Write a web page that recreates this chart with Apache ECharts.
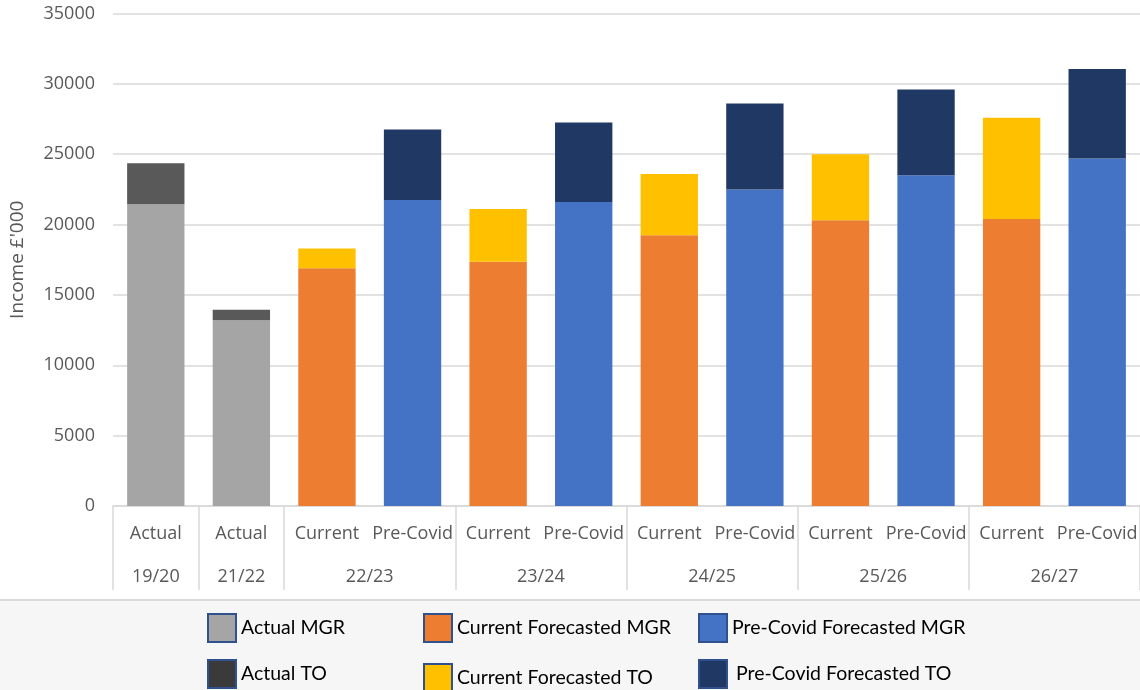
<!DOCTYPE html>
<html>
<head>
<meta charset="utf-8">
<script src="https://cdn.jsdelivr.net/npm/echarts@6/dist/echarts.min.js"></script>
<style>
  html, body { margin: 0; padding: 0; background: #ffffff; }
  #chart { width: 1140px; height: 690px; }
</style>
</head>
<body>
<div id="chart"></div>
<script>
// Bar labels (inner row) and the year groups they belong to (outer row)
const categories = ['Actual', 'Actual', 'Current', 'Pre-Covid', 'Current', 'Pre-Covid',
                    'Current', 'Pre-Covid', 'Current', 'Pre-Covid', 'Current', 'Pre-Covid'];
const yearLabels = ['19/20', '21/22', '22/23', '23/24', '24/25', '25/26', '26/27'];
const yearSpans = [1, 1, 2, 2, 2, 2, 2];

// Income, £'000
const actualMGR      = [21450, 13200, null, null, null, null, null, null, null, null, null, null];
const actualTO       = [2900, 750, null, null, null, null, null, null, null, null, null, null];
const currentMGR     = [null, null, 16900, null, 17350, null, 19250, null, 20300, null, 20400, null];
const currentTO      = [null, null, 1400, null, 3750, null, 4350, null, 4700, null, 7200, null];
const preCovidMGR    = [null, null, null, 21750, null, 21600, null, 22500, null, 23500, null, 24700];
const preCovidTO     = [null, null, null, 5000, null, 5650, null, 6100, null, 6100, null, 6350];

const yTicks = [0, 5000, 10000, 15000, 20000, 25000, 30000, 35000];

// group boundaries and centres along the category extent
const boundaries = [0];
const centres = [];
yearSpans.forEach(function (s) {
  const start = boundaries[boundaries.length - 1];
  centres.push(start + s / 2);
  boundaries.push(start + s);
});

const GRID_COLOR = '#d9d9d9';
const TEXT_COLOR = '#595959';
const AXIS_FONT = '"Open Sans", "Noto Sans", sans-serif';
const LEGEND_FONT = 'Lato, "Noto Sans", sans-serif';

const seriesDefs = [
  { name: 'Actual MGR', data: actualMGR, color: '#a5a5a5' },
  { name: 'Actual TO', data: actualTO, color: '#595959', legendColor: '#3a3a3a' },
  { name: 'Current Forecasted MGR', data: currentMGR, color: '#ed7d31' },
  { name: 'Current Forecasted TO', data: currentTO, color: '#ffc000' },
  { name: 'Pre-Covid Forecasted MGR', data: preCovidMGR, color: '#4472c4' },
  { name: 'Pre-Covid Forecasted TO', data: preCovidTO, color: '#203864' }
];

// legend slots: [left, top] and label padding
const legendSlots = [
  [207, 613, [0, 0, 0, 0]], [207, 659, [0, 0, 8, 0]],
  [423, 613, [0, 0, 0, 0]], [423, 663, [0, 0, 0, 0]],
  [698, 613, [0, 0, 0, 0]], [698, 659, [0, 0, 0, 4]]
];

const chart = echarts.init(document.getElementById('chart'), null, { renderer: 'canvas' });

const option = {
  backgroundColor: '#ffffff',
  animation: false,
  graphic: [
    {
      type: 'rect', z: -10, silent: true,
      shape: { x: 0, y: 600, width: 1140, height: 90 },
      style: { fill: '#f6f6f6' }
    },
    {
      type: 'line', z: -9, silent: true,
      shape: { x1: 0, y1: 600, x2: 1140, y2: 600 },
      style: { stroke: GRID_COLOR, lineWidth: 2 }
    }
  ],
  grid: {
    left: 113, right: 0, top: 13.5, bottom: 184,
    containLabel: false,
    outerBoundsMode: 'none'
  },
  legend: seriesDefs.map(function (d, i) {
    return {
      left: legendSlots[i][0],
      top: legendSlots[i][1],
      padding: 0,
      selectedMode: false,
      icon: 'rect',
      itemWidth: 28,
      itemHeight: 28,
      itemStyle: { borderColor: '#2f528f', borderWidth: 2 },
      textStyle: {
        fontFamily: LEGEND_FONT, fontSize: 19.5, color: '#000000',
        padding: legendSlots[i][2]
      },
      data: [{ name: d.name, itemStyle: { color: d.legendColor || d.color } }]
    };
  }),
  xAxis: [
    {
      type: 'category',
      data: categories,
      position: 'bottom',
      axisLine: { show: true, lineStyle: { color: GRID_COLOR, width: 1.5 } },
      axisTick: { show: false },
      axisLabel: {
        color: TEXT_COLOR, fontFamily: AXIS_FONT, fontSize: 18,
        margin: 19, interval: 0
      },
      splitLine: { show: false }
    },
    {
      type: 'value',
      min: 0,
      max: categories.length,
      position: 'bottom',
      offset: 0,
      axisLine: { show: false },
      splitLine: { show: false },
      axisTick: {
        show: true,
        customValues: boundaries,
        length: 84,
        lineStyle: { color: GRID_COLOR, width: 1.5 }
      },
      axisLabel: {
        show: true,
        customValues: centres,
        margin: 62,
        color: TEXT_COLOR, fontFamily: AXIS_FONT, fontSize: 18,
        formatter: function (v) {
          const i = centres.indexOf(v);
          return i >= 0 ? yearLabels[i] : '';
        }
      }
    }
  ],
  yAxis: {
    type: 'value',
    min: yTicks[0],
    max: yTicks[yTicks.length - 1],
    interval: yTicks[1] - yTicks[0],
    name: 'Income £\'000',
    nameLocation: 'middle',
    nameGap: 86,
    nameRotate: 90,
    nameTextStyle: { color: TEXT_COLOR, fontFamily: AXIS_FONT, fontSize: 19 },
    axisLine: { show: false },
    axisTick: { show: false },
    axisLabel: {
      color: TEXT_COLOR, fontFamily: AXIS_FONT, fontSize: 18, margin: 18,
      formatter: function (v) { return String(v); }
    },
    splitLine: { lineStyle: { color: GRID_COLOR, width: 1.5 } }
  },
  series: seriesDefs.map(function (d) {
    return {
      name: d.name,
      type: 'bar',
      stack: 'income',
      xAxisIndex: 0,
      yAxisIndex: 0,
      barCategoryGap: '33%',
      data: d.data,
      itemStyle: { color: d.color },
      emphasis: { disabled: true }
    };
  })
};

chart.setOption(option);
</script>
</body>
</html>
